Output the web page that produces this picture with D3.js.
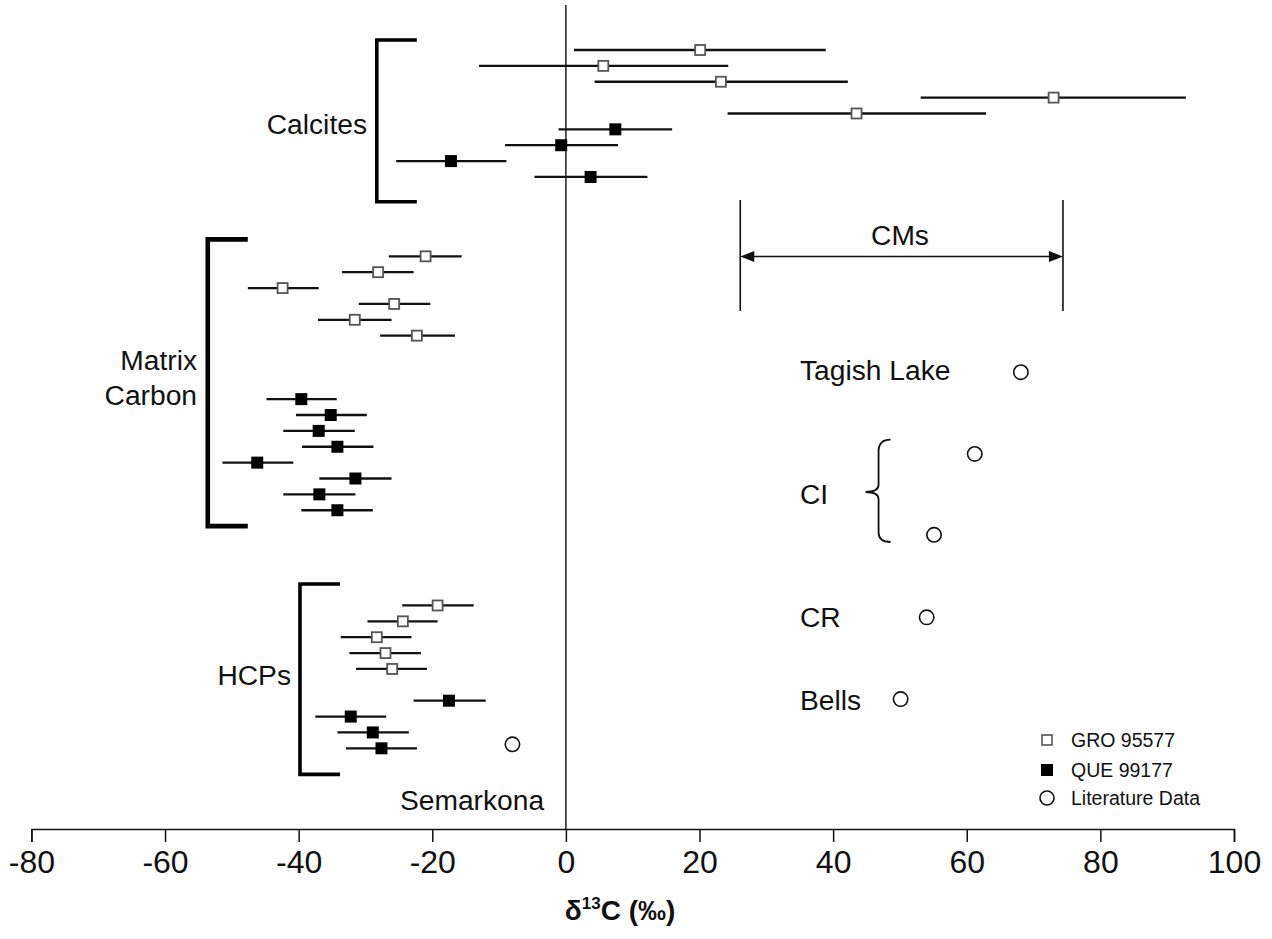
<!DOCTYPE html>
<html>
<head>
<meta charset="utf-8">
<script src="https://cdn.jsdelivr.net/npm/d3@7/dist/d3.min.js"></script>
<style>
  html, body { margin: 0; padding: 0; background: #fff; }
  svg { display: block; font-family: "Liberation Sans", Arial, Helvetica, sans-serif; }
</style>
</head>
<body>
<svg id="chart" width="1272" height="939"></svg>
<script>
// δ13C measurements: [row, mean, low, high]; rows count from the top of the plot
const groCalcite = [
  [0, 20.1, 1.2, 38.9],
  [1, 5.6, -13.0, 24.3],
  [2, 23.2, 4.3, 42.2],
  [3, 73.0, 53.1, 92.8],
  [4, 43.5, 24.2, 62.9]
];
const queCalcite = [
  [5, 7.4, -1.1, 15.9],
  [6, -0.7, -9.1, 7.8],
  [7, -17.2, -25.4, -8.9],
  [8, 3.7, -4.7, 12.2]
];
const groMatrix = [
  [13, -21.0, -26.5, -15.6],
  [14, -28.1, -33.5, -22.8],
  [15, -42.4, -47.6, -37.0],
  [16, -25.7, -31.0, -20.3],
  [17, -31.6, -37.1, -26.1],
  [18, -22.3, -27.8, -16.6]
];
const queMatrix = [
  [22, -39.6, -44.8, -34.3],
  [23, -35.2, -40.4, -29.8],
  [24, -37.0, -42.3, -31.6],
  [25, -34.2, -39.5, -28.8],
  [26, -46.2, -51.4, -40.8],
  [27, -31.5, -36.9, -26.1],
  [28, -36.9, -42.3, -31.5],
  [29, -34.2, -39.6, -28.9]
];
const groHCP = [
  [35, -19.2, -24.5, -13.8],
  [36, -24.4, -29.7, -19.2],
  [37, -28.3, -33.7, -23.1],
  [38, -27.0, -32.4, -21.7],
  [39, -26.0, -31.4, -20.8]
];
const queHCP = [
  [41, -17.5, -22.8, -12.0],
  [42, -32.2, -37.5, -26.9],
  [43, -28.9, -34.2, -23.5],
  [44, -27.6, -32.9, -22.3]
];
// literature bulk values: [row, δ13C, name]
const literature = [
  [20.3, 68.1, "Tagish Lake"],
  [25.45, 61.2, "CI"],
  [30.55, 55.1, "CI"],
  [35.75, 54.0, "CR"],
  [40.9, 50.1, "Bells"],
  [43.75, -8.0, "Semarkona"]
];
const cmRange = [26.1, 74.4];
const xTicks = [-80, -60, -40, -20, 0, 20, 40, 60, 80, 100];
const legendItems = ["GRO 95577", "QUE 99177", "Literature Data"];

const svg = d3.select("#chart");
const x = d3.scaleLinear().domain([-80, 100]).range([31.4, 1234]);
const y = d3.scaleLinear().domain([0, 44]).range([50, 748.3]);
const axisY = 829;

// zero line
svg.append("line")
  .attr("x1", x(0)).attr("x2", x(0))
  .attr("y1", 5).attr("y2", axisY)
  .attr("stroke", "#111").attr("stroke-width", 1.4);

// x axis
const axis = d3.axisBottom(x).tickValues(xTicks).tickSize(13).tickPadding(8)
  .tickFormat(d3.format("d"));
const gAxis = svg.append("g").attr("transform", `translate(0,${axisY})`).call(axis);
gAxis.select(".domain").attr("stroke", "#111").attr("stroke-width", 1.5);
gAxis.selectAll(".tick line").attr("stroke", "#111").attr("stroke-width", 1.5);
gAxis.selectAll(".tick text")
  .attr("font-size", 32).attr("fill", "#111")
  .attr("font-family", "'Liberation Sans', Arial, sans-serif")
  .text(d => d < 0 ? "-" + Math.abs(d) : d);

// axis title
const title = svg.append("text")
  .attr("x", 620).attr("y", 920)
  .attr("text-anchor", "middle")
  .attr("font-size", 28).attr("font-weight", "bold").attr("fill", "#111");
title.append("tspan").text("δ");
title.append("tspan").attr("font-size", 17).attr("dy", -11).text("13");
title.append("tspan").attr("dy", 11).text("C (‰)");

// error bars and markers
function drawSeries(data, filled) {
  const g = svg.append("g");
  g.selectAll("line").data(data).join("line")
    .attr("x1", d => x(d[2])).attr("x2", d => x(d[3]))
    .attr("y1", d => y(d[0])).attr("y2", d => y(d[0]))
    .attr("stroke", "#111").attr("stroke-width", 2.3);
  const s = filled ? 12 : 10;
  g.selectAll("rect").data(data).join("rect")
    .attr("x", d => x(d[1]) - s / 2).attr("y", d => y(d[0]) - s / 2)
    .attr("width", s).attr("height", s)
    .attr("fill", filled ? "#000" : "#fff")
    .attr("stroke", filled ? "#000" : "#555")
    .attr("stroke-width", filled ? 0 : 1.8);
}
[groCalcite, groMatrix, groHCP].forEach(d => drawSeries(d, false));
[queCalcite, queMatrix, queHCP].forEach(d => drawSeries(d, true));

svg.append("g").selectAll("circle").data(literature).join("circle")
  .attr("cx", d => x(d[1])).attr("cy", d => y(d[0]))
  .attr("r", 7.2).attr("fill", "#fff").attr("stroke", "#111").attr("stroke-width", 1.6);

// group brackets
function bracket(xv, r0, r1, arm, width) {
  const px = x(xv);
  svg.append("path")
    .attr("d", `M${px + arm},${y(r0)} H${px} V${y(r1)} H${px + arm}`)
    .attr("fill", "none").attr("stroke", "#000").attr("stroke-width", width);
}
bracket(-28.3, -0.63, 9.56, 40, 3.6);
bracket(-53.6, 11.93, 30.0, 40, 4.6);
bracket(-39.8, 33.65, 45.64, 40, 3.6);

// CI brace
const bx = x(46.8);
svg.append("path")
  .attr("d", `M${bx + 12},${y(24.55)} Q${bx},${y(24.55)} ${bx},${y(25.3)} V${y(27.4)} Q${bx},${y(27.85)} ${bx - 13},${y(27.85)} Q${bx},${y(27.85)} ${bx},${y(28.3)} V${y(30.4)} Q${bx},${y(31.0)} ${bx + 12},${y(31.0)}`)
  .attr("fill", "none").attr("stroke", "#111").attr("stroke-width", 1.8);

// CM range
const cmTop = 200, cmBottom = 311, cmArrow = 256.5;
svg.append("g").selectAll("line").data(cmRange).join("line")
  .attr("x1", d => x(d)).attr("x2", d => x(d))
  .attr("y1", cmTop).attr("y2", cmBottom)
  .attr("stroke", "#111").attr("stroke-width", 1.6);
svg.append("line")
  .attr("x1", x(cmRange[0]) + 12).attr("x2", x(cmRange[1]) - 12)
  .attr("y1", cmArrow).attr("y2", cmArrow)
  .attr("stroke", "#111").attr("stroke-width", 1.6);
[[cmRange[0], 1], [cmRange[1], -1]].forEach(([v, dir]) => {
  const px = x(v);
  svg.append("path")
    .attr("d", `M${px},${cmArrow} L${px + dir * 14},${cmArrow - 5.5} L${px + dir * 14},${cmArrow + 5.5} Z`)
    .attr("fill", "#111");
});

// text labels
const labelFont = 28.2;
function label(txt, px, py, anchor) {
  svg.append("text").attr("x", px).attr("y", py).attr("dy", "0.35em")
    .attr("text-anchor", anchor).attr("font-size", labelFont).attr("fill", "#111")
    .text(txt);
}
label("Calcites", 367, 124, "end");
label("Matrix", 197, 360, "end");
label("Carbon", 197, 395, "end");
label("HCPs", 291, 675, "end");
label("Semarkona", 472, 800, "middle");
label("CMs", 900, 235, "middle");
label("Tagish Lake", 800, 370, "start");
label("CI", 800, 494, "start");
label("CR", 800, 617, "start");
label("Bells", 800, 700, "start");

// legend
const legendRows = [740, 770, 798];
const lg = svg.append("g");
legendItems.forEach((name, i) => {
  const cy = legendRows[i], cx = 1047;
  if (i === 0) {
    lg.append("rect").attr("x", cx - 5).attr("y", cy - 5).attr("width", 10).attr("height", 10)
      .attr("fill", "#fff").attr("stroke", "#555").attr("stroke-width", 1.6);
  } else if (i === 1) {
    lg.append("rect").attr("x", cx - 6).attr("y", cy - 6).attr("width", 12).attr("height", 12)
      .attr("fill", "#000");
  } else {
    lg.append("circle").attr("cx", cx).attr("cy", cy).attr("r", 7)
      .attr("fill", "#fff").attr("stroke", "#111").attr("stroke-width", 1.6);
  }
  lg.append("text").attr("x", 1071).attr("y", cy).attr("dy", "0.35em")
    .attr("font-size", 19.5).attr("fill", "#111").text(name);
});
</script>
</body>
</html>
